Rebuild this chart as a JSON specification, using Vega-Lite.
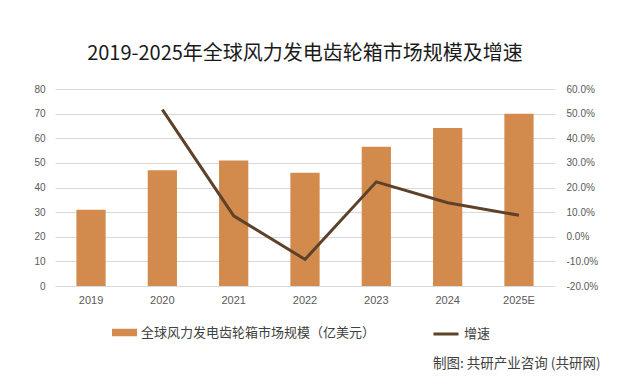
{
  "$schema": "https://vega.github.io/schema/vega-lite/v6.json",
  "autosize": "none",
  "width": 500,
  "height": 197,
  "padding": {"top": 89, "left": 55, "right": 64, "bottom": 103},
  "background": "white",
  "title": {
    "text": "2019-2025年全球风力发电齿轮箱市场规模及增速",
    "font": "Noto Sans CJK SC",
    "fontSize": 20,
    "fontWeight": "normal",
    "color": "#1a1a1a",
    "anchor": "middle",
    "frame": "group",
    "offset": 20
  },
  "data": {
    "values": [
      {"year": "2019", "size": 31, "growth": null},
      {"year": "2020", "size": 47, "growth": 0.516},
      {"year": "2021", "size": 51, "growth": 0.085},
      {"year": "2022", "size": 46, "growth": -0.092},
      {"year": "2023", "size": 56.5, "growth": 0.223},
      {"year": "2024", "size": 64.2, "growth": 0.138},
      {"year": "2025E", "size": 70, "growth": 0.087}
    ]
  },
  "encoding": {
    "x": {
      "field": "year",
      "type": "nominal",
      "sort": null,
      "scale": {"paddingInner": 0.59, "paddingOuter": 0.3},
      "axis": {
        "title": "制图: 共研产业咨询 (共研网)",
        "titleFont": "Noto Sans CJK SC",
        "titleFontSize": 13.5,
        "titleFontWeight": "normal",
        "titleColor": "#404040",
        "titleX": 545,
        "titleY": 81,
        "titleAlign": "right",
        "titleBaseline": "alphabetic",
        "labelAngle": 0,
        "labelFont": "Liberation Sans",
        "labelFontSize": 11,
        "labelColor": "#595959",
        "labelPadding": 8,
        "ticks": false,
        "domainColor": "#D9D9D9",
        "grid": false
      }
    }
  },
  "layer": [
    {
      "mark": {"type": "bar"},
      "encoding": {
        "y": {
          "field": "size",
          "type": "quantitative",
          "scale": {"domain": [0, 80]},
          "axis": {
            "orient": "left",
            "title": null,
            "values": [0, 10, 20, 30, 40, 50, 60, 70, 80],
            "labelFont": "Liberation Sans",
            "labelFontSize": 10,
            "labelColor": "#595959",
            "labelPadding": 10,
            "ticks": false,
            "domain": false,
            "grid": true,
            "gridColor": "#D9D9D9"
          }
        },
        "fill": {
          "datum": "全球风力发电齿轮箱市场规模（亿美元）",
          "scale": {"range": ["#D38B4D"]},
          "legend": {
            "title": null,
            "orient": "none",
            "legendX": 57,
            "legendY": 231,
            "symbolType": "M-1,-0.3H1V0.3H-1Z",
            "symbolSize": 625,
            "symbolStrokeWidth": 0,
            "labelFont": "Noto Sans CJK SC",
            "labelFontSize": 13,
            "labelColor": "#404040",
            "labelOffset": 4,
            "labelLimit": 400
          }
        }
      }
    },
    {
      "mark": {"type": "line", "strokeWidth": 3, "strokeJoin": "miter"},
      "encoding": {
        "y": {
          "field": "growth",
          "type": "quantitative",
          "scale": {"domain": [-0.2, 0.6]},
          "axis": {
            "orient": "right",
            "title": null,
            "values": [-0.2, -0.1, 0, 0.1, 0.2, 0.3, 0.4, 0.5, 0.6],
            "format": ".1%",
            "labelExpr": "replace(datum.label, '\u2212', '-')",
            "labelFont": "Liberation Sans",
            "labelFontSize": 10,
            "labelColor": "#595959",
            "labelPadding": 11,
            "ticks": false,
            "domain": false,
            "grid": false
          }
        },
        "stroke": {
          "datum": "增速",
          "scale": {"range": ["#5E4129"]},
          "legend": {
            "title": null,
            "orient": "none",
            "legendX": 377,
            "legendY": 231,
            "symbolType": "stroke",
            "symbolSize": 625,
            "symbolStrokeWidth": 3,
            "labelFont": "Noto Sans CJK SC",
            "labelFontSize": 13,
            "labelColor": "#404040",
            "labelOffset": 4
          }
        }
      }
    }
  ],
  "resolve": {"scale": {"y": "independent"}},
  "config": {
    "view": {"stroke": null}
  }
}
